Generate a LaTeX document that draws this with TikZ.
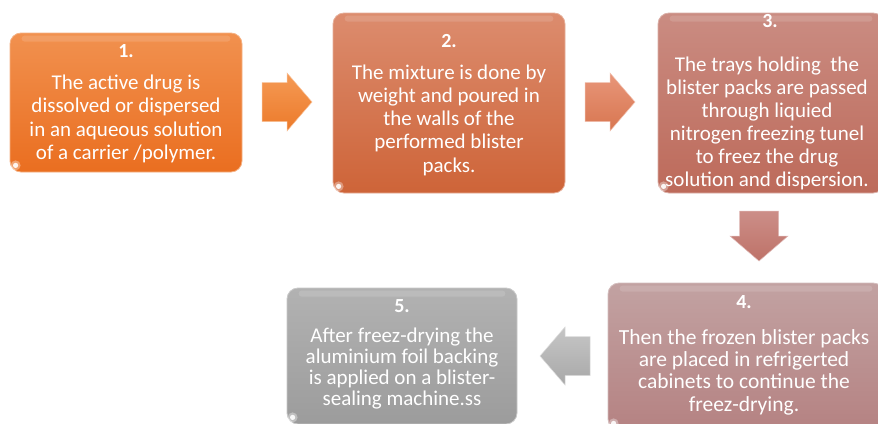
\documentclass[tikz,border=0pt]{standalone}
\usepackage{fontspec}
\setmainfont{Carlito}
\definecolor{o1t}{HTML}{F1914F}
\definecolor{o1b}{HTML}{EA6E20}
\definecolor{o2t}{HTML}{DC8C6E}
\definecolor{o2b}{HTML}{CE6438}
\definecolor{o3t}{HTML}{CA8C82}
\definecolor{o3b}{HTML}{BD6A5A}
\definecolor{o4t}{HTML}{C2A2A2}
\definecolor{o4b}{HTML}{B58282}
\definecolor{o5t}{HTML}{B2B2B2}
\definecolor{o5b}{HTML}{9C9C9C}
\definecolor{a1t}{HTML}{F59A55}
\definecolor{a1b}{HTML}{EC7A2A}
\definecolor{a2t}{HTML}{E8967A}
\definecolor{a2b}{HTML}{D87650}
\definecolor{a3t}{HTML}{CC8E88}
\definecolor{a3b}{HTML}{BE7268}
\definecolor{a4t}{HTML}{C6C6C6}
\definecolor{a4b}{HTML}{A8A8A8}
% block arrow: origin at the middle of the shaft's back end, pointing along +x
\newcommand\blockarrow[4]{%
  \begin{scope}[shift={(#1,#2)},rotate=#3]
    \path[#4] (0,-19.5) -- (25,-19.5) -- (25,-29) -- (50,0) -- (25,29)
      -- (25,19.5) -- (0,19.5) -- cycle;
  \end{scope}}
\begin{document}
\begin{tikzpicture}[x=1pt,y=-1pt,
  stepbox/.style={rounded corners=11pt, inner sep=0pt, line width=0.8pt},
  numtxt/.style={text=white, inner sep=0pt, font=\bfseries\fontsize{20}{22}\selectfont},
  bodytxt/.style={text=white, inner sep=0pt, align=center, font=\fontsize{21}{23.3}\selectfont},
  gloss/.style={white, opacity=0.13, rounded corners=3pt},
  glare/.style={white, opacity=0.9}]
\useasboundingbox (0,0) rectangle (878,423);
\clip (0,0) rectangle (878,423);
\fill[white] (0,0) rectangle (878,423);

% step boxes
\node[stepbox, draw=o1t!70!white, top color=o1t, bottom color=o1b,
  minimum width=232pt, minimum height=139pt] (b1) at (126,102.5) {};
\node[stepbox, draw=o2t!70!white, top color=o2t, bottom color=o2b,
  minimum width=232pt, minimum height=180pt] (b2) at (449,103) {};
\node[stepbox, draw=o3t!70!white, top color=o3t, bottom color=o3b,
  minimum width=226pt, minimum height=180pt] (b3) at (771,103) {};
\node[stepbox, draw=o4t!70!white, top color=o4t, bottom color=o4b,
  minimum width=276pt, minimum height=147pt] (b4) at (746,356.5) {};
\node[stepbox, draw=o5t!70!white, top color=o5t, bottom color=o5b,
  minimum width=230pt, minimum height=136pt] (b5) at (402,356) {};

% glossy top band and corner glint on each box
\foreach \b in {b1,b2,b3,b4,b5}{
  \fill[gloss] ([xshift=12pt,yshift=-3pt]\b.north west) rectangle ([xshift=-12pt,yshift=-9pt]\b.north east);
  \fill[white, opacity=0.35] ([xshift=6pt,yshift=7pt]\b.south west) circle (5pt);
  \fill[glare] ([xshift=6pt,yshift=7pt]\b.south west) circle (2.6pt);
}

% block arrows between the steps
\blockarrow{262}{102}{0}{top color=a1t, bottom color=a1b, draw=a1t!60!white, line width=0.5pt}
\blockarrow{585}{102}{0}{top color=a2t, bottom color=a2b, draw=a2t!60!white, line width=0.5pt}
\blockarrow{759}{211}{-90}{top color=a3t, bottom color=a3b, draw=a3t!60!white, line width=0.5pt}
\blockarrow{590}{356}{180}{top color=a4t, bottom color=a4b, draw=a4t!60!white, line width=0.5pt}

% step texts
\node[numtxt] (n1) at (126,51) {1.};
\node[bodytxt] (t1) at (126,119) {The active drug is\\dissolved or dispersed\\in an aqueous solution\\of a carrier /polymer.};

\node[numtxt] (n2) at (449,41) {2.};
\node[bodytxt] (t2) at (449,120) {The mixture is done by\\weight and poured in\\the walls of the\\performed blister\\packs.};

\node[numtxt] (n3) at (770,21) {3.};
\node[bodytxt, font=\fontsize{21}{23}\selectfont] (t3) at (767,123) {The trays holding\ \ the\\blister packs are passed\\through liquied\\nitrogen freezing tunel\\to freez the drug\\solution and dispersion.};

\node[numtxt] (n4) at (744,302) {4.};
\node[bodytxt, font=\fontsize{21.5}{22.3}\selectfont] (t4) at (744,372) {Then the frozen blister packs\\are placed in refrigerted\\cabinets to continue the\\freez-drying.};

\node[numtxt] (n5) at (402,306) {5.};
\node[bodytxt, font=\fontsize{21}{21}\selectfont] (t5) at (402,369) {After freez-drying the\\aluminium foil backing\\is applied on a blister-\\sealing machine.ss};
\end{tikzpicture}
\end{document}
